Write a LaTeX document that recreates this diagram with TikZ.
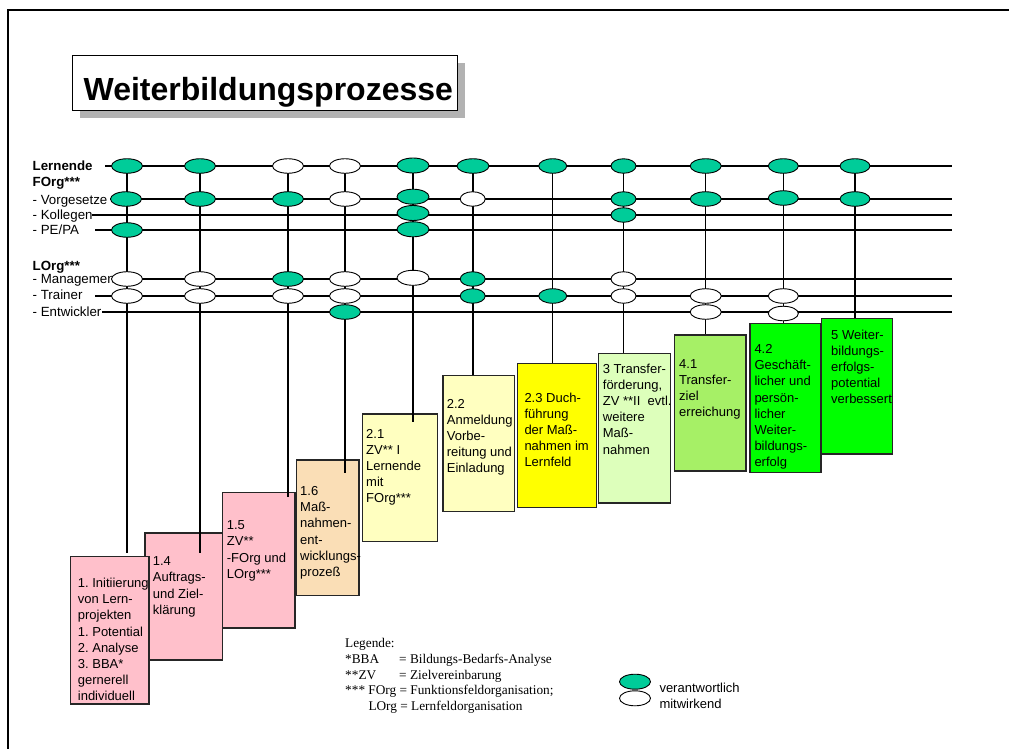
\documentclass[tikz,border=0pt]{standalone}
\usepackage{fontspec}
\setmainfont{Liberation Sans}
\newfontfamily\serifrm{Liberation Serif}
\usetikzlibrary{shapes.geometric}
\pgfdeclarelayer{bg}
\pgfsetlayers{bg,main}
\definecolor{egreen}{RGB}{0,204,153}
\definecolor{pinkc}{RGB}{255,192,203}
\definecolor{peachc}{RGB}{250,222,182}
\definecolor{lyellow}{RGB}{255,255,192}
\definecolor{yellowc}{RGB}{255,255,0}
\definecolor{lgreen}{RGB}{221,255,187}
\definecolor{mgreen}{RGB}{166,240,102}
\definecolor{bgreen}{RGB}{0,255,0}
\definecolor{shadowc}{RGB}{178,178,178}
\frenchspacing
\begin{document}
\begin{tikzpicture}[x=1pt,y=-1pt,
  frameline/.style={line width=2pt},
  conn/.style={line width=1.1pt},
  ell/.style={ellipse, draw, line width=0.9pt, minimum width=31pt, minimum height=14.5pt, inner sep=0},
  G/.style={ell, fill=egreen},
  W/.style={ell, fill=white},
  boxc/.style={draw=black!85, line width=1.3pt, anchor=north west, inner sep=0},
  btext/.style={anchor=north west, inner sep=0, align=left, font=\fontsize{13}{16.2}\selectfont\frenchspacing},
  lab/.style={anchor=base west, inner sep=0, font=\fontsize{13.3}{16}\selectfont},
  blab/.style={lab, font=\fontsize{13.3}{16}\selectfont\bfseries},
  leg/.style={anchor=base west, inner sep=0, font=\serifrm\fontsize{13.3}{16}\selectfont},
  legs/.style={anchor=base west, inner sep=0, font=\fontsize{13}{16}\selectfont}
]
\useasboundingbox (0,0) rectangle (1009,749);
\draw[frameline] (8,749) -- (8,10) -- (1009,10);

% title
\fill[shadowc] (80,63) rectangle (465,118);
\node[draw, line width=1.2pt, fill=white, minimum width=385pt, minimum height=55pt, anchor=north west, inner sep=0] (titlebox) at (72,55) {};
\node[font=\fontsize{32}{36}\selectfont\bfseries, anchor=base, inner sep=0] (title) at (268.3,100.5) {Weiterbildungsprozesse};

% row labels
\node[blab] (lLern) at (32.5,170.7) {Lernende};
\node[blab] (lForg) at (32.5,186.7) {FOrg***};
\node[lab] (lVorg) at (32.5,204) {- Vorgesetze};
\node[lab] (lKoll) at (32.5,219.7) {- Kollegen};
\node[lab] (lPE) at (32.5,234.7) {- PE/PA};
\node[blab] (lLorg) at (32.5,270.7) {LOrg***};
\node[lab] (lMan) at (32.5,283) {- Managemen};
\node[lab] (lTr) at (32.5,299.5) {- Trainer};
\node[lab] (lEnt) at (32.5,316.5) {- Entwickler};

% row line coordinates
\coordinate (h1s) at (105,166);  \coordinate (h1e) at (952,166);
\coordinate (h2s) at (110,199);  \coordinate (h2e) at (952,199);
\coordinate (h3s) at (92,215);   \coordinate (h3e) at (952,215);
\coordinate (h4s) at (95,230);   \coordinate (h4e) at (952,230);
\coordinate (h5s) at (112,279);  \coordinate (h5e) at (952,279);
\coordinate (h6s) at (95,296);   \coordinate (h6e) at (952,296);
\coordinate (h7s) at (102,312);  \coordinate (h7e) at (952,312);

% boxes
\begin{pgfonlayer}{bg}
\node[boxc, fill=pinkc, minimum width=77.4pt, minimum height=127pt] (b14) at (144.3,532.3) {};
\node[boxc, fill=pinkc, minimum width=78.3pt, minimum height=147.3pt] (b1) at (70,556) {};
\node[boxc, fill=pinkc, minimum width=72.6pt, minimum height=135.6pt] (b15) at (221.7,491.7) {};
\node[boxc, fill=peachc, minimum width=62.6pt, minimum height=135.7pt] (b16) at (295.7,459.3) {};
\node[boxc, fill=lyellow, minimum width=75pt, minimum height=127.2pt] (b21) at (361.7,413.3) {};
\node[boxc, fill=lyellow, minimum width=71.7pt, minimum height=135.7pt] (b22) at (442.3,375) {};
\node[boxc, fill=yellowc, minimum width=79.3pt, minimum height=144pt] (b23) at (516.7,362.7) {};
\node[boxc, fill=lgreen, minimum width=72.3pt, minimum height=149.6pt] (b3) at (597.7,352.7) {};
\node[boxc, fill=mgreen, minimum width=71.3pt, minimum height=136pt] (b41) at (674,334.3) {};
\node[boxc, fill=bgreen, minimum width=71pt, minimum height=149.3pt] (b42) at (749.3,322.7) {};
\node[boxc, fill=bgreen, minimum width=71pt, minimum height=135.6pt] (b5) at (820.7,317.7) {};
\end{pgfonlayer}

% ellipses
% col1
\node[G] (e1a) at (127,166) {};
\node[G] (e1b) at (126,199) {};
\node[G] (e1d) at (127,230) {};
\node[W] (e1e) at (127,279) {};
\node[W] (e1f) at (127,296) {};
% col2
\node[G] (e2a) at (200,166) {};
\node[G] (e2b) at (200,199) {};
\node[W] (e2e) at (200,279) {};
\node[W] (e2f) at (200,296) {};
% col3
\node[W] (e3a) at (288,166) {};
\node[G] (e3b) at (288,199) {};
\node[G] (e3e) at (288,279) {};
\node[W] (e3f) at (288,296) {};
% col4
\node[W] (e4a) at (345,166) {};
\node[W] (e4b) at (345,199) {};
\node[W] (e4e) at (345,279) {};
\node[W] (e4f) at (345,296) {};
\node[G] (e4g) at (345,312) {};
% col5
\node[G, minimum width=32pt, minimum height=15pt] (e5a) at (413,165.5) {};
\node[G, minimum width=32pt, minimum height=15pt] (e5b) at (413,196.7) {};
\node[G, minimum width=32pt, minimum height=15pt] (e5c) at (413,213) {};
\node[G, minimum width=32pt, minimum height=15pt] (e5d) at (413,229.3) {};
\node[W, minimum width=32pt, minimum height=15pt] (e5e) at (413,277.8) {};
% col6
\node[G, minimum width=32pt] (e6a) at (473,166) {};
\node[W, minimum width=25pt] (e6b) at (472.7,199) {};
\node[G, minimum width=25pt] (e6e) at (472.7,279) {};
\node[G, minimum width=25pt] (e6f) at (472.7,296) {};
% col7
\node[G, minimum width=28pt] (e7a) at (552.7,166) {};
\node[G, minimum width=28pt] (e7f) at (552.7,296) {};
% col8
\node[G, minimum width=25pt] (e8a) at (623.5,166) {};
\node[G, minimum width=25pt] (e8b) at (623.5,199) {};
\node[G, minimum width=25pt] (e8c) at (623.5,215) {};
\node[W, minimum width=25pt] (e8e) at (623.5,279) {};
\node[W, minimum width=25pt] (e8f) at (623.5,296) {};
% col9
\node[G] (e9a) at (705.7,166) {};
\node[G] (e9b) at (705.7,199) {};
\node[W] (e9f) at (705.7,296) {};
\node[W] (e9g) at (705.7,312) {};
% col10
\node[G, minimum width=30pt] (e10a) at (783.3,166) {};
\node[G, minimum width=30pt] (e10b) at (783.3,198) {};
\node[W, minimum width=30pt] (e10f) at (783.3,296) {};
\node[W, minimum width=30pt] (e10g) at (783.3,313.5) {};
% col11
\node[G, minimum width=30pt] (e11a) at (855,166) {};
\node[G, minimum width=30pt] (e11b) at (855,199) {};

% column end coordinates
\coordinate (v1) at (127,553);
\coordinate (v2) at (200,553);
\coordinate (v3) at (288,497);
\coordinate (v4) at (345,473);
\coordinate (v5) at (413,422);
\coordinate (v6) at (473,375);
\coordinate (v7) at (552.7,362.7);
\coordinate (v8) at (623.5,352.7);
\coordinate (v9) at (705.7,334.3);
\coordinate (v10) at (783.3,322.7);
\coordinate (v11) at (855,317.7);

\begin{pgfonlayer}{bg}
\foreach \i in {1,...,7} { \draw[conn] (h\i s) -- (h\i e); }
\draw[conn] (e1a.center) -- (v1);
\draw[conn] (e2a.center) -- (v2);
\draw[conn] (e3a.center) -- (v3);
\draw[conn] (e4a.center) -- (v4);
\draw[conn] (e5a.center) -- (v5);
\draw[conn] (e6a.center) -- (v6);
\draw[conn] (e7a.center) -- (v7);
\draw[conn] (e8a.center) -- (v8);
\draw[conn] (e9a.center) -- (v9);
\draw[conn] (e10a.center) -- (v10);
\draw[conn] (e11a.center) -- (v11);
\end{pgfonlayer}

% box texts
\node[btext] (t1) at (77.7,577.2) {\rule{0pt}{10pt}1. Initiierung\\von Lern-\\projekten\\1. Potential\\2. Analyse\\3. BBA*\\gernerell\\individuell};
\node[btext] (t14) at (152.7,555.5) {\rule{0pt}{10pt}1.4\\Auftrags-\\und Ziel-\\klärung};
\node[btext] (t15) at (226.7,519.5) {\rule{0pt}{10pt}1.5\\ZV**\\-FOrg und\\LOrg***};
\node[btext] (t16) at (300,485.2) {\rule{0pt}{10pt}1.6\\Maß-\\nahmen-\\ent-\\wicklungs-\\prozeß};
\node[btext] (t21) at (366,427.8) {\rule{0pt}{10pt}2.1\\ZV** I\\Lernende\\mit\\FOrg***};
\node[btext] (t22) at (446.7,397.8) {\rule{0pt}{10pt}2.2\\Anmeldung\\Vorbe-\\reitung und\\Einladung};
\node[btext] (t23) at (524.3,391.8) {\rule{0pt}{10pt}2.3 Duch-\\führung\\der Maß-\\nahmen im\\Lernfeld};
\node[btext] (t3) at (602.7,362.8) {\rule{0pt}{10pt}3 Transfer-\\förderung,\\ZV **II~~evtl.\\weitere\\Maß-\\nahmen};
\node[btext] (t41) at (679,357.8) {\rule{0pt}{10pt}4.1\\Transfer-\\ziel\\erreichung};
\node[btext] (t42) at (754.3,343.2) {\rule{0pt}{10pt}4.2\\Geschäft-\\licher und\\persön-\\licher\\Weiter-\\bildungs-\\erfolg};
\node[btext] (t5) at (831,328.8) {\rule{0pt}{10pt}5 Weiter-\\bildungs-\\erfolgs-\\potential\\verbessert};

% legend
\node[leg] (lg0) at (345,647.3) {Legende:};
\node[leg] (lg1) at (345,663.2) {*BBA};
\node[leg] (lg1b) at (399,663.2) {= Bildungs-Bedarfs-Analyse};
\node[leg] (lg2) at (345,679) {**ZV};
\node[leg] (lg2b) at (399,679) {= Zielvereinbarung};
\node[leg] (lg3) at (345,694.9) {*** FOrg = Funktionsfeldorganisation;};
\node[leg] (lg4) at (368.3,710.7) {LOrg = Lernfeldorganisation};

\node[G, minimum width=31pt, minimum height=15pt] (kg) at (635,681.7) {};
\node[W, minimum width=31pt, minimum height=15pt] (kw) at (635,698.3) {};
\node[legs] (kgt) at (659.3,692.5) {verantwortlich};
\node[legs] (kwt) at (659.3,708.3) {mitwirkend};
\end{tikzpicture}
\end{document}
